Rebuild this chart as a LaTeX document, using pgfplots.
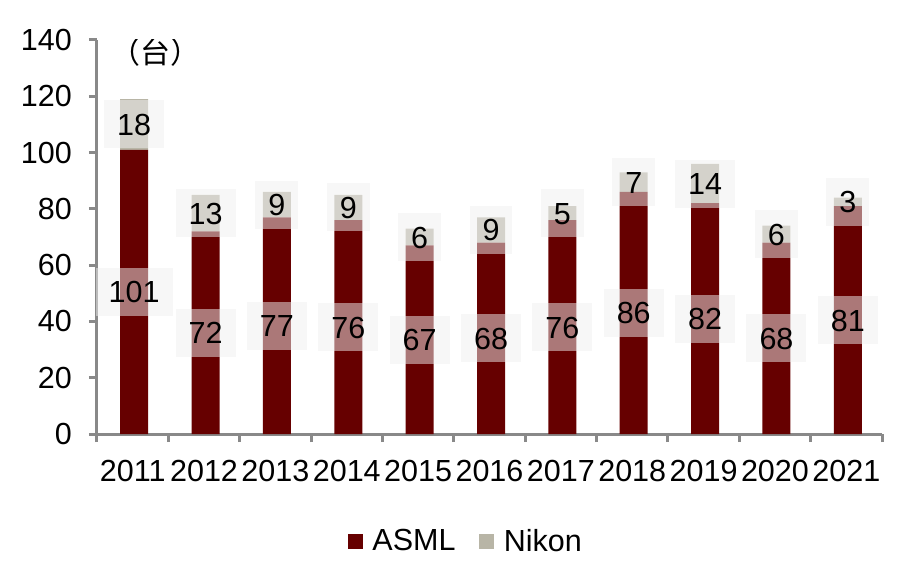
\documentclass[border=0pt]{standalone}
\usepackage{pgfplots}
\pgfplotsset{compat=1.18}
\usepackage{fontspec}
\setmainfont{Liberation Sans}
\newfontfamily\cjk{Noto Sans CJK SC}
\definecolor{asml}{HTML}{660000}
\definecolor{nikon}{HTML}{B8B5A6}
\definecolor{axgray}{HTML}{898989}
\begin{document}
\begin{tikzpicture}
\useasboundingbox (-97bp,-139bp) rectangle (810bp,434bp);
\pgfplotsset{common/.style={
  scale only axis, width=785bp, height=394bp,
  xmin=-0.5, xmax=10.5, ymin=0, ymax=140,
  font=\fontsize{30.5bp}{35bp}\selectfont,
  /pgf/number format/assume math mode=true,
}}
\begin{axis}[common,
  ybar stacked, bar width=28bp, bar shift=1.5bp,
  axis x line=bottom, axis y line=left,
  axis line style={-, line width=3bp, axgray},
  ytick={0,20,...,140},
  tick align=outside, major tick length=8bp,
  every tick/.style={line width=3bp, axgray},
  xtick={-0.5,0.5,...,10.5}, xticklabels={},
  extra x ticks={0,1,2,3,4,5,6,7,8,9,10},
  extra x tick labels={2011,2012,2013,2014,2015,2016,2017,2018,2019,2020,2021},
  extra x tick style={major tick length=0pt, xticklabel style={anchor=north, inner sep=0pt, yshift=-26bp}},
  yticklabel style={anchor=east, inner sep=0pt, xshift=-17bp},
]
\addplot[fill=asml, draw=none] coordinates {(0,101) (1,72) (2,77) (3,76) (4,67) (5,68) (6,76) (7,86) (8,82) (9,68) (10,81)};
\addplot[fill=nikon, draw=none] coordinates {(0,18) (1,13) (2,9) (3,9) (4,6) (5,9) (6,5) (7,7) (8,14) (9,6) (10,3)};
\node[font=\cjk\fontsize{30bp}{33bp}\selectfont] at (rel axis cs:0.075,0.9695) {（台）};
\end{axis}
\begin{axis}[common, hide axis,
  nodes near coords, point meta=explicit symbolic,
  nodes near coords style={anchor=center, font=\fontsize{30.5bp}{35bp}\selectfont, fill=black!6, fill opacity=0.5, text opacity=1, inner xsep=13bp, inner ysep=13bp, text height=22bp, text depth=0bp, xshift=1.5bp},
  legend style={draw=none, fill=none, legend columns=2, at={(0.470,-0.2716)}, anchor=center, font=\fontsize{30.5bp}{35bp}\selectfont, /tikz/every even column/.append style={column sep=22bp}},
]
\addplot[draw=none, mark=none, forget plot] coordinates {(0,50.5)[101] (1,36)[72] (2,38.5)[77] (3,38)[76] (4,33.5)[67] (5,34)[68] (6,38)[76] (7,43)[86] (8,41)[82] (9,34)[68] (10,40.5)[81]};
\addplot[draw=none, mark=none, forget plot] coordinates {(0,110)[18] (1,78.5)[13] (2,81.5)[9] (3,80.5)[9] (4,70)[6] (5,72.5)[9] (6,78.5)[5] (7,89.5)[7] (8,89)[14] (9,71)[6] (10,82.5)[3]};
\addlegendimage{legend image code/.code={\fill[asml] (0bp,-7bp) rectangle (14bp,7bp); \path (22bp,0bp);}}
\addlegendentry{ASML}
\addlegendimage{legend image code/.code={\fill[nikon] (0bp,-7bp) rectangle (14bp,7bp); \path (22bp,0bp);}}
\addlegendentry{Nikon}
\end{axis}
\end{tikzpicture}
\end{document}
